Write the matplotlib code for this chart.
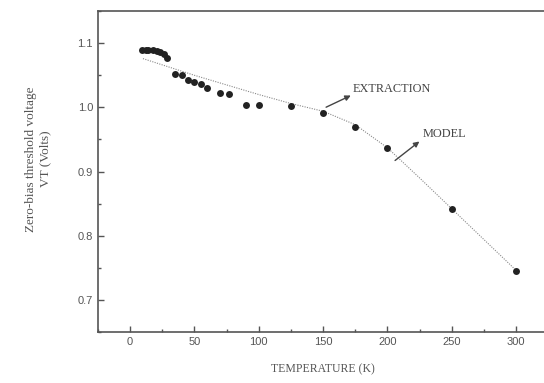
import matplotlib
matplotlib.use("Agg")
import matplotlib.pyplot as plt
from matplotlib.ticker import MultipleLocator

# extracted threshold voltage (dots)
temp_ext = [9, 12, 14, 18, 21, 23, 26, 29, 35, 40, 45, 50, 55, 60, 70, 77,
            90, 100, 125, 150, 175, 200, 250, 300]
vt_ext = [1.090, 1.089, 1.089, 1.090, 1.0875, 1.086, 1.0835, 1.077,
          1.052, 1.051, 1.043, 1.039, 1.037, 1.030, 1.023, 1.021,
          1.0045, 1.0045, 1.0025, 0.991, 0.969, 0.936, 0.841, 0.745]

# model curve (dotted)
temp_model = [10, 50, 100, 125, 150, 175, 200, 225, 250, 275, 300]
vt_model = [1.076, 1.050, 1.020, 1.006, 0.994, 0.973, 0.937, 0.890, 0.842, 0.794, 0.746]

fig = plt.figure(figsize=(5.44, 3.83), dpi=100)
ax = fig.add_axes([0.180, 0.133, 0.828, 0.838])

ax.plot(temp_model, vt_model, linestyle=(0, (1, 1.2)), color="#8a8a8a", linewidth=0.8)
ax.plot(temp_ext, vt_ext, "o", color="#222222", markersize=5, markeredgewidth=0)

ax.set_xlim(-25, 325)
ax.set_ylim(0.65, 1.15)
ax.xaxis.set_major_locator(MultipleLocator(50))
ax.xaxis.set_minor_locator(MultipleLocator(25))
ax.yaxis.set_major_locator(MultipleLocator(0.1))
ax.yaxis.set_minor_locator(MultipleLocator(0.05))
ax.yaxis.set_major_formatter(plt.FormatStrFormatter("%.1f"))

ax.tick_params(which="both", direction="in", colors="#555555", width=1.0,
               labelsize=8, labelcolor="#555555")
ax.tick_params(which="major", length=4)
ax.tick_params(which="minor", length=2)
for lab in ax.get_xticklabels() + ax.get_yticklabels():
    lab.set_fontfamily("Liberation Sans")

for side in ["left", "bottom", "top"]:
    ax.spines[side].set_color("#555555")
    ax.spines[side].set_linewidth(1.2)
ax.spines["right"].set_visible(False)

serif = "Liberation Serif"
ax.set_xlabel("TEMPERATURE (K)", fontfamily=serif, fontsize=8.5, color="#555555", labelpad=12)
fig.text(0.07, 0.585, "Zero-bias threshold voltage\nVT (Volts)", rotation=90,
         ha="center", va="center", fontfamily=serif, fontsize=9.5,
         color="#555555", linespacing=1.2)

arrow = dict(arrowstyle="-|>", color="#444444", lw=1.0, mutation_scale=8,
             shrinkA=0, shrinkB=0)
ax.annotate("", xy=(171.5, 1.0185), xytext=(152.3, 1.0003), arrowprops=arrow)
ax.text(173.3, 1.0294, "EXTRACTION", fontsize=8.8, fontfamily=serif,
        color="#444444", va="center", ha="left")
ax.annotate("", xy=(224.8, 0.9469), xytext=(205.9, 0.9173), arrowprops=arrow)
ax.text(227.7, 0.958, "MODEL", fontsize=8.8, fontfamily=serif,
        color="#444444", va="center", ha="left")

fig.savefig("out.png", dpi=100)
